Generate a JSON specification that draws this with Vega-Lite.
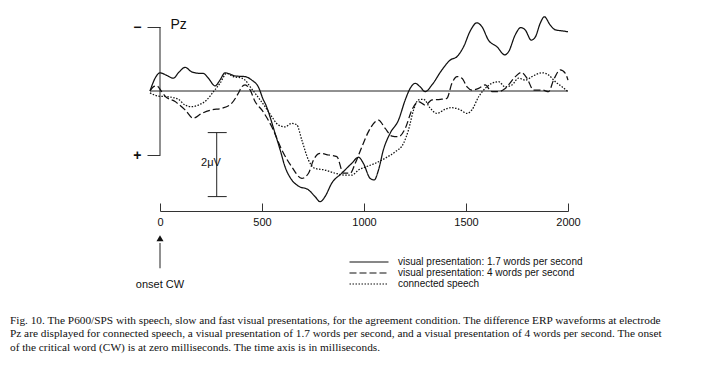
{
  "$schema": "https://vega.github.io/schema/vega-lite/v6.json",
  "width": 408,
  "height": 200,
  "autosize": {"type": "none"},
  "padding": {"left": 160, "top": 11, "right": 142, "bottom": 154},
  "background": "white",
  "config": {
    "view": {"stroke": null},
    "font": "Liberation Sans",
    "axis": {"grid": false}
  },
  "title": {
    "text": [
      "Fig. 10. The P600/SPS with speech, slow and fast visual presentations, for the agreement condition. The difference ERP waveforms at electrode",
      "Pz are displayed for connected speech, a visual presentation of 1.7 words per second, and a visual presentation of 4 words per second. The onset",
      "of the critical word (CW) is at zero milliseconds. The time axis is in milliseconds."
    ],
    "orient": "bottom",
    "anchor": "start",
    "frame": "group",
    "dx": -150,
    "offset": 25,
    "font": "Liberation Serif",
    "fontSize": 11.3,
    "fontWeight": "normal",
    "lineHeight": 13.5,
    "color": "#111"
  },
  "datasets": {
    "erp": [
      {"s":"slow","t":-49,"v":0},{"s":"slow","t":-24,"v":-0.4},{"s":"slow","t":0,"v":-0.57},{"s":"slow","t":29,"v":-0.5},{"s":"slow","t":65,"v":-0.4},{"s":"slow","t":93,"v":-0.59},{"s":"slow","t":123,"v":-0.74},{"s":"slow","t":155,"v":-0.6},{"s":"slow","t":196,"v":-0.55},{"s":"slow","t":212,"v":-0.55},{"s":"slow","t":237,"v":-0.4},{"s":"slow","t":270,"v":-0.16},{"s":"slow","t":294,"v":-0.34},{"s":"slow","t":319,"v":-0.57},{"s":"slow","t":343,"v":-0.53},{"s":"slow","t":368,"v":-0.47},{"s":"slow","t":417,"v":-0.45},{"s":"slow","t":450,"v":-0.34},{"s":"slow","t":482,"v":-0.13},{"s":"slow","t":507,"v":0.28},{"s":"slow","t":515,"v":0.38},{"s":"slow","t":564,"v":1.32},{"s":"slow","t":589,"v":1.84},{"s":"slow","t":613,"v":2.37},{"s":"slow","t":646,"v":2.78},{"s":"slow","t":678,"v":2.97},{"s":"slow","t":728,"v":3.09},{"s":"slow","t":760,"v":3.3},{"s":"slow","t":785,"v":3.46},{"s":"slow","t":809,"v":3.3},{"s":"slow","t":842,"v":2.88},{"s":"slow","t":891,"v":2.57},{"s":"slow","t":940,"v":2.26},{"s":"slow","t":973,"v":2.07},{"s":"slow","t":997,"v":2.26},{"s":"slow","t":1030,"v":2.73},{"s":"slow","t":1050,"v":2.78},{"s":"slow","t":1071,"v":2.47},{"s":"slow","t":1095,"v":1.84},{"s":"slow","t":1128,"v":1.32},{"s":"slow","t":1169,"v":0.91},{"s":"slow","t":1202,"v":0.28},{"s":"slow","t":1226,"v":-0.08},{"s":"slow","t":1251,"v":-0.24},{"s":"slow","t":1275,"v":-0.13},{"s":"slow","t":1300,"v":0.02},{"s":"slow","t":1333,"v":-0.19},{"s":"slow","t":1382,"v":-0.66},{"s":"slow","t":1423,"v":-0.97},{"s":"slow","t":1455,"v":-1.07},{"s":"slow","t":1488,"v":-1.38},{"s":"slow","t":1521,"v":-1.88},{"s":"slow","t":1553,"v":-2.13},{"s":"slow","t":1578,"v":-2.01},{"s":"slow","t":1610,"v":-1.59},{"s":"slow","t":1652,"v":-1.38},{"s":"slow","t":1690,"v":-1.13},{"s":"slow","t":1709,"v":-1.23},{"s":"slow","t":1741,"v":-1.75},{"s":"slow","t":1768,"v":-1.98},{"s":"slow","t":1790,"v":-1.91},{"s":"slow","t":1820,"v":-1.59},{"s":"slow","t":1840,"v":-1.69},{"s":"slow","t":1864,"v":-2.12},{"s":"slow","t":1884,"v":-2.32},{"s":"slow","t":1913,"v":-2.06},{"s":"slow","t":1938,"v":-1.91},{"s":"slow","t":1971,"v":-1.88},{"s":"slow","t":2000,"v":-1.85},
      {"s":"fast","t":-49,"v":0},{"s":"fast","t":-33,"v":-0.13},{"s":"fast","t":-16,"v":-0.16},{"s":"fast","t":8,"v":0.02},{"s":"fast","t":25,"v":0.16},{"s":"fast","t":74,"v":0.33},{"s":"fast","t":123,"v":0.59},{"s":"fast","t":163,"v":0.85},{"s":"fast","t":205,"v":0.7},{"s":"fast","t":254,"v":0.59},{"s":"fast","t":303,"v":0.54},{"s":"fast","t":352,"v":0.38},{"s":"fast","t":384,"v":0.07},{"s":"fast","t":401,"v":-0.13},{"s":"fast","t":417,"v":-0.19},{"s":"fast","t":442,"v":-0.03},{"s":"fast","t":466,"v":0.33},{"s":"fast","t":499,"v":0.59},{"s":"fast","t":548,"v":1.12},{"s":"fast","t":597,"v":1.84},{"s":"fast","t":646,"v":2.37},{"s":"fast","t":695,"v":2.73},{"s":"fast","t":728,"v":2.57},{"s":"fast","t":752,"v":2.16},{"s":"fast","t":785,"v":1.95},{"s":"fast","t":826,"v":2.0},{"s":"fast","t":867,"v":2.05},{"s":"fast","t":899,"v":2.57},{"s":"fast","t":932,"v":2.57},{"s":"fast","t":957,"v":2.26},{"s":"fast","t":990,"v":1.74},{"s":"fast","t":1022,"v":1.27},{"s":"fast","t":1055,"v":0.96},{"s":"fast","t":1071,"v":0.91},{"s":"fast","t":1104,"v":1.17},{"s":"fast","t":1137,"v":1.41},{"s":"fast","t":1169,"v":1.43},{"s":"fast","t":1202,"v":1.17},{"s":"fast","t":1235,"v":0.59},{"s":"fast","t":1267,"v":0.33},{"s":"fast","t":1300,"v":0.44},{"s":"fast","t":1333,"v":0.28},{"s":"fast","t":1374,"v":0.26},{"s":"fast","t":1406,"v":0.23},{"s":"fast","t":1431,"v":-0.24},{"s":"fast","t":1456,"v":-0.45},{"s":"fast","t":1480,"v":-0.4},{"s":"fast","t":1505,"v":-0.13},{"s":"fast","t":1529,"v":-0.03},{"s":"fast","t":1562,"v":-0.08},{"s":"fast","t":1594,"v":-0.19},{"s":"fast","t":1627,"v":0.02},{"s":"fast","t":1660,"v":0.02},{"s":"fast","t":1692,"v":-0.08},{"s":"fast","t":1742,"v":-0.45},{"s":"fast","t":1771,"v":-0.58},{"s":"fast","t":1799,"v":-0.4},{"s":"fast","t":1831,"v":-0.03},{"s":"fast","t":1873,"v":-0.03},{"s":"fast","t":1905,"v":0.02},{"s":"fast","t":1929,"v":-0.34},{"s":"fast","t":1962,"v":-0.66},{"s":"fast","t":1987,"v":-0.55},{"s":"fast","t":2000,"v":-0.34},
      {"s":"speech","t":-49,"v":0.06},{"s":"speech","t":-8,"v":0.16},{"s":"speech","t":41,"v":0.18},{"s":"speech","t":90,"v":0.26},{"s":"speech","t":123,"v":0.44},{"s":"speech","t":156,"v":0.49},{"s":"speech","t":188,"v":0.44},{"s":"speech","t":229,"v":0.28},{"s":"speech","t":262,"v":0.02},{"s":"speech","t":294,"v":-0.24},{"s":"speech","t":327,"v":-0.55},{"s":"speech","t":360,"v":-0.45},{"s":"speech","t":401,"v":-0.4},{"s":"speech","t":417,"v":-0.34},{"s":"speech","t":442,"v":-0.13},{"s":"speech","t":466,"v":0.07},{"s":"speech","t":491,"v":0.28},{"s":"speech","t":515,"v":0.49},{"s":"speech","t":548,"v":0.8},{"s":"speech","t":580,"v":1.06},{"s":"speech","t":613,"v":1.12},{"s":"speech","t":646,"v":1.01},{"s":"speech","t":671,"v":1.06},{"s":"speech","t":695,"v":1.53},{"s":"speech","t":728,"v":2.16},{"s":"speech","t":760,"v":2.42},{"s":"speech","t":809,"v":2.47},{"s":"speech","t":859,"v":2.57},{"s":"speech","t":908,"v":2.63},{"s":"speech","t":940,"v":2.63},{"s":"speech","t":973,"v":2.47},{"s":"speech","t":1022,"v":2.34},{"s":"speech","t":1055,"v":2.26},{"s":"speech","t":1104,"v":2.1},{"s":"speech","t":1153,"v":1.9},{"s":"speech","t":1194,"v":1.63},{"s":"speech","t":1218,"v":1.22},{"s":"speech","t":1243,"v":0.59},{"s":"speech","t":1267,"v":0.28},{"s":"speech","t":1292,"v":0.26},{"s":"speech","t":1325,"v":0.54},{"s":"speech","t":1357,"v":0.7},{"s":"speech","t":1398,"v":0.57},{"s":"speech","t":1431,"v":0.52},{"s":"speech","t":1472,"v":0.59},{"s":"speech","t":1505,"v":0.7},{"s":"speech","t":1529,"v":0.59},{"s":"speech","t":1562,"v":0.18},{"s":"speech","t":1594,"v":-0.08},{"s":"speech","t":1627,"v":-0.24},{"s":"speech","t":1660,"v":-0.29},{"s":"speech","t":1692,"v":-0.13},{"s":"speech","t":1725,"v":-0.19},{"s":"speech","t":1758,"v":-0.4},{"s":"speech","t":1791,"v":-0.34},{"s":"speech","t":1823,"v":-0.45},{"s":"speech","t":1873,"v":-0.57},{"s":"speech","t":1905,"v":-0.5},{"s":"speech","t":1938,"v":-0.29},{"s":"speech","t":1971,"v":-0.13},{"s":"speech","t":2000,"v":0.02}
    ],
    "rules": [
      {"t":-49,"t2":2000,"v":0,"v2":0},
      {"t":0,"t2":0,"v":-2,"v2":2},
      {"t":278,"t2":278,"v":1.3,"v2":3.3},
      {"t":234,"t2":327,"v":1.3,"v2":1.3},
      {"t":234,"t2":327,"v":3.3,"v2":3.3},
      {"t":0,"t2":0,"v":4.75,"v2":5.54}
    ],
    "labels": [
      {"t":250,"v":2.25,"label":"2μV","align":"right"},
      {"t":0,"v":6.06,"label":"onset CW","align":"center"}
    ],
    "arrow": [{"t":0,"v":4.6}]
  },
  "encoding": {
    "x": {
      "field": "t", "type": "quantitative",
      "scale": {"domain": [0, 2000], "nice": false, "zero": false},
      "axis": {
        "title": null, "values": [0, 500, 1000, 1500, 2000], "format": "d", "tickSize": -8,
        "domainColor": "#333", "tickColor": "#333", "labelFontSize": 11,
        "labelColor": "#111", "labelPadding": 13, "labelFlush": false
      }
    },
    "y": {
      "field": "v", "type": "quantitative",
      "scale": {"domain": [-2.5, 3.75], "reverse": true, "nice": false, "zero": false},
      "axis": {
        "title": "Pz", "titleAngle": 0, "titleX": 10, "titleY": 13, "titleAlign": "left",
        "titleBaseline": "middle", "titleFontSize": 14, "titleFontWeight": "normal", "titleColor": "#111",
        "values": [-2, 2], "labelExpr": "datum.value < 0 ? '−' : '+'",
        "labelFontSize": 14, "labelFontWeight": "bold", "labelColor": "#111", "labelPadding": 6,
        "tickSize": 13, "tickColor": "#333", "domain": false
      }
    }
  },
  "layer": [
    {
      "data": {"name": "rules"},
      "mark": {"type": "rule", "color": "#222", "strokeWidth": 1},
      "encoding": {
        "x2": {"field": "t2"},
        "y2": {"field": "v2"}
      }
    },
    {
      "data": {"name": "erp"},
      "mark": {"type": "line", "interpolate": "monotone", "strokeWidth": 1.25, "color": "#111"},
      "encoding": {
        "strokeDash": {
          "field": "s", "type": "nominal",
          "scale": {"domain": ["slow", "fast", "speech"], "range": [[1, 0], [7, 3], [1.5, 1.5]]},
          "legend": {
            "orient": "none", "legendX": 203, "legendY": 245, "title": null,
            "symbolType": "M-3.9,0H3.9", "symbolSize": 100, "symbolStrokeColor": "#111", "symbolStrokeWidth": 1.2,
            "labelFontSize": 10, "labelColor": "#111", "labelOffset": 23, "labelLimit": 400,
            "rowPadding": 0, "padding": 0,
            "labelExpr": "datum.value == 'slow' ? 'visual presentation: 1.7 words per second' : datum.value == 'fast' ? 'visual presentation: 4 words per second' : 'connected speech'"
          }
        }
      }
    },
    {
      "data": {"name": "arrow"},
      "mark": {"type": "point", "shape": "triangle-up", "filled": true, "size": 50, "color": "#111", "opacity": 1}
    },
    {
      "data": {"name": "labels"},
      "mark": {"type": "text", "fontSize": 11, "color": "#111", "baseline": "middle"},
      "encoding": {
        "text": {"field": "label"},
        "align": {"field": "align"}
      }
    }
  ]
}
